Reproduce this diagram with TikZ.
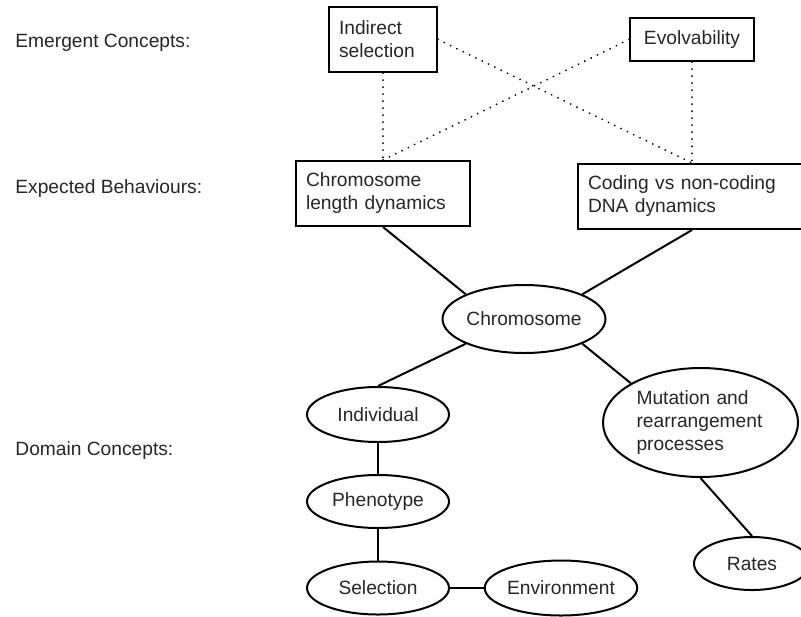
\documentclass[tikz,border=0pt]{standalone}
\usepackage{fontspec}
\setmainfont{Liberation Sans}
\usetikzlibrary{shapes.geometric}

\tikzset{
  box/.style={draw, line width=1pt, inner xsep=5pt, inner ysep=0pt, align=left},
  blob/.style={draw, ellipse, line width=1pt, inner sep=0pt},
  tag/.style={anchor=base west, inner sep=0pt},
  link/.style={line width=1pt},
  hint/.style={line width=1pt, dash pattern=on 0.01pt off 3.5pt, line cap=round}
}

\begin{document}
\begin{tikzpicture}[x=0.5pt, y=-0.5pt, font=\fontsize{9.6}{11.5}\selectfont, text=black!85]
\useasboundingbox (0,0) rectangle (801,616);
\node[tag] (lE) at (15,47) {Emergent Concepts:};
\node[tag] (lB) at (15,193) {Expected Behaviours:};
\node[tag] (lD) at (15,455) {Domain Concepts:};

\node[box, text width=44pt, minimum height=32.5pt] (isel) at (383,39.5) {Indirect\\selection};
\node[box, minimum width=62pt, minimum height=21.5pt] (evo) at (692,39.5) {Evolvability};
\node[box, text width=77pt, minimum height=32.5pt] (clen) at (383,193.5) {Chromosome\\length dynamics};
\node[box, text width=104pt, minimum height=32.5pt] (cnc) at (692,196.5) {Coding vs non-coding\\DNA dynamics};

\node[blob, minimum width=79pt, minimum height=34pt] (chr) at (524,319) {Chromosome};
\node[blob, minimum width=71pt, minimum height=27.5pt] (indv) at (378,414.5) {Individual};
\node[blob, minimum width=71pt, minimum height=26.5pt] (phen) at (378,501.5) {Phenotype};
\node[blob, minimum width=71pt, minimum height=26.5pt] (sel) at (378,588) {Selection};
\node[blob, minimum width=74pt, minimum height=27.5pt] (env) at (561,588) {Environment};
\node[blob, minimum width=97.5pt, minimum height=54.5pt, text width=64pt, align=left] (mut) at (700.5,422.5) {Mutation and\\rearrangement\\processes};
\node[blob, minimum width=58pt, minimum height=26.5pt] (rat) at (752,563.5) {Rates};

% dotted links up to the emergent concepts
\draw[hint] (isel) -- (clen);
\draw[hint] (evo) -- (cnc);
\draw[hint] (isel.east) -- (cnc.north);
\draw[hint] (evo.west) -- (clen.north);

\draw[link] (clen.south) -- (chr.north west);
\draw[link] (cnc.south) -- (chr.north east);
\draw[link] (chr.south west) -- (indv.north);
\draw[link] (chr.south east) -- (mut.north west);
\draw[link] (indv) -- (phen);
\draw[link] (phen) -- (sel);
\draw[link] (sel) -- (env);
\draw[link] (mut.south) -- (rat.north);
\end{tikzpicture}
\end{document}
